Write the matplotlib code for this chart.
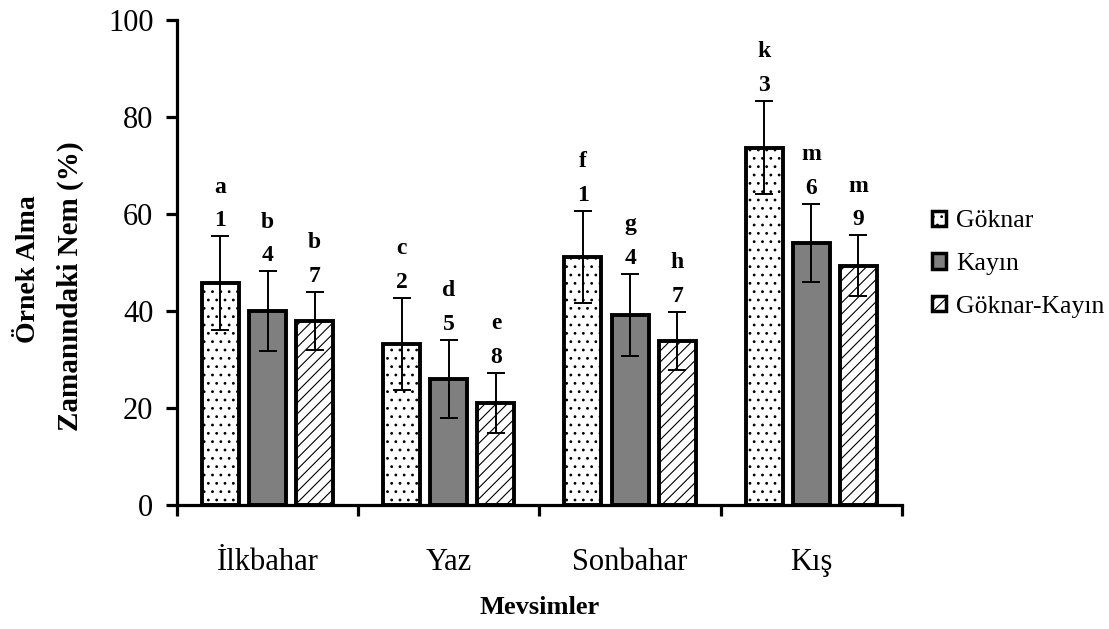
import matplotlib
matplotlib.use("Agg")
import matplotlib.pyplot as plt
import numpy as np
from matplotlib.patches import Patch

seasons = ["İlkbahar", "Yaz", "Sonbahar", "Kış"]
series = ["Göknar", "Kayın", "Göknar-Kayın"]
goknar = [45.8, 33.3, 51.1, 73.7]
kayin = [40.0, 26.0, 39.2, 54.0]
goknar_kayin = [37.9, 21.0, 33.8, 49.4]
goknar_err = [9.6, 9.5, 9.5, 9.6]
kayin_err = [8.2, 8.0, 8.4, 8.1]
goknar_kayin_err = [6.0, 6.2, 6.0, 6.2]
letters = [["a", "c", "f", "k"], ["b", "d", "g", "m"], ["b", "e", "h", "m"]]
numbers = [["1", "2", "1", "3"], ["4", "5", "4", "6"], ["7", "8", "7", "9"]]

plt.rcParams['font.family'] = ['Liberation Serif', 'DejaVu Serif']
plt.rcParams['hatch.linewidth'] = 0.8

fig = plt.figure(figsize=(11.09, 6.29), dpi=100)
ax = fig.add_axes([0.1596, 0.197, 0.8133 - 0.1596, 0.968 - 0.197])

vals = [goknar, kayin, goknar_kayin]
errs = [goknar_err, kayin_err, goknar_kayin_err]
faces = ['white', '#7f7f7f', 'white']
hatches = ['..', None, '///']
x = np.arange(len(seasons))
width = 0.204
offs = [-0.26, 0.0, 0.26]
handles = []
for i in range(3):
    ax.bar(x + offs[i], vals[i], width, color=faces[i], edgecolor='black',
           linewidth=2.8, hatch=hatches[i], zorder=2)
    ax.errorbar(x + offs[i], vals[i], yerr=errs[i], fmt='none', ecolor='black',
                elinewidth=1.4, capsize=6.5, capthick=1.4, zorder=3)
    for j in range(len(seasons)):
        top = vals[i][j] + errs[i][j]
        ax.annotate(numbers[i][j], (x[j] + offs[i], top), xytext=(0, 7.2),
                    textcoords='offset points', ha='center', va='baseline',
                    fontsize=17, fontweight='bold')
        ax.annotate(letters[i][j], (x[j] + offs[i], top), xytext=(0, 31.5),
                    textcoords='offset points', ha='center', va='baseline',
                    fontsize=17, fontweight='bold')
    handles.append(Patch(facecolor=faces[i], edgecolor='black', linewidth=2.5,
                         hatch=hatches[i], label=series[i]))

ax.set_xlim(-0.5, len(seasons) - 0.5)
ax.set_ylim(0, 100)
ax.set_yticks([0, 20, 40, 60, 80, 100])
ax.set_xticks(np.arange(len(seasons) + 1) - 0.5)
ax.set_xticklabels([])
for j, s in enumerate(seasons):
    ax.annotate(s, (x[j], 0), xycoords=('data', 'axes fraction'), xytext=(0, -46.5),
                textcoords='offset points', ha='center', va='baseline', fontsize=22)
ax.tick_params(axis='x', direction='out', length=8, width=2.3)
ax.tick_params(axis='y', direction='out', length=8, width=2.3, labelsize=22, pad=9)
for s in ['top', 'right']:
    ax.spines[s].set_visible(False)
for s in ['left', 'bottom']:
    ax.spines[s].set_linewidth(2.3)

fig.text(29 / 1109, 1 - 269 / 629, "Örnek Alma", rotation=90,
         ha='center', va='center', fontsize=20, fontweight='bold')
fig.text(70 / 1109, 1 - 286 / 629, "Zamanındaki Nem (%)", rotation=90,
         ha='center', va='center', fontsize=21, fontweight='bold')
fig.text((177 + 902) / 2 / 1109, 1 - 607 / 629, "Mevsimler", ha='center', va='center',
         fontsize=19, fontweight='bold')

fig.legend(handles=handles, loc='center left', bbox_to_anchor=(932 / 1109, 1 - 264 / 629),
           frameon=False, fontsize=18.5, handlelength=0.55, handleheight=0.55,
           handletextpad=0.39, labelspacing=0.8, borderpad=0, borderaxespad=0)

fig.savefig("out.png", dpi=100)
